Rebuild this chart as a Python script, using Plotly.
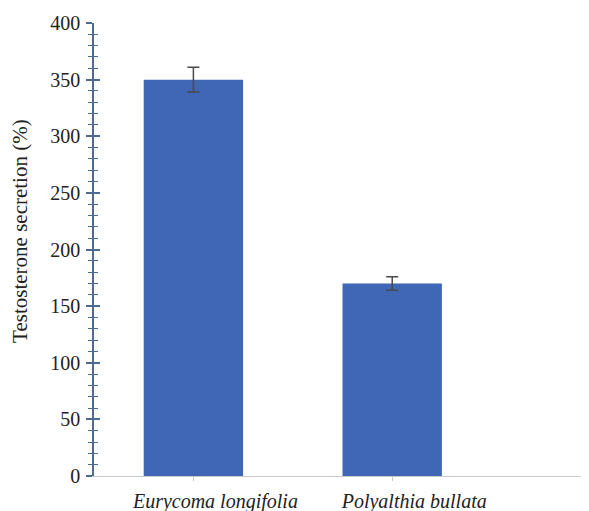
import plotly.graph_objects as go

categories = ["Eurycoma longifolia", "Polyalthia bullata"]
values = [350, 170]
errors = [11, 6]
y_ticks = [0, 50, 100, 150, 200, 250, 300, 350, 400]
y_title = "Testosterone secretion (%)"

serif = "Liberation Serif"
axis_col = "#4d6b8c"

fig = go.Figure()
fig.add_trace(go.Bar(
    x=categories, y=values, width=0.5,
    marker=dict(color="#3f67b6", line=dict(width=0)),
    error_y=dict(type="data", array=errors, visible=True,
                 color="#4a4a4a", thickness=1.5, width=6),
))
# helper trace for second (inside-tick) y axis
fig.add_trace(go.Scatter(x=[categories[0]], y=[0], yaxis="y2",
                         mode="markers", marker=dict(opacity=0),
                         showlegend=False, hoverinfo="skip"))

fig.update_layout(
    width=589, height=511,
    margin=dict(l=86, r=4, t=15, b=43),
    paper_bgcolor="white", plot_bgcolor="white",
    showlegend=False,
    font=dict(family=serif, color="#222222", size=20),
    xaxis=dict(
        type="category", categoryarray=categories, categoryorder="array",
        range=[-0.5, 2.01], automargin=False,
        showline=True, linecolor="#c9c9c9", linewidth=1,
        ticks="outside", ticklen=4, tickcolor="#c9c9c9",
        tickfont=dict(family=serif, size=20, style="italic", color="#222222"),
        ticklabelshift=22, ticklabelstandoff=3,
        showgrid=False, zeroline=False,
    ),
    yaxis=dict(
        range=[0, 400], tickvals=y_ticks, automargin=False,
        showline=True, linecolor=axis_col, linewidth=1.5,
        ticks="outside", ticklen=6, tickcolor=axis_col, tickwidth=1.5,
        minor=dict(dtick=10, ticks="outside", ticklen=4, tickcolor=axis_col, tickwidth=1.2),
        tickfont=dict(family=serif, size=20, color="#222222"),
        ticklabelstandoff=2,
        showgrid=False, zeroline=False,
    ),
    yaxis2=dict(
        range=[0, 400], overlaying="y", side="left", anchor="x", automargin=False,
        tickvals=y_ticks, showticklabels=False,
        ticks="inside", ticklen=6, tickcolor=axis_col, tickwidth=1.5,
        minor=dict(dtick=10, ticks="inside", ticklen=4, tickcolor=axis_col, tickwidth=1.2),
        showgrid=False, zeroline=False, showline=False,
    ),
    annotations=[dict(
        text=y_title, textangle=-90, showarrow=False,
        xref="paper", yref="paper", x=0, y=0.541, xshift=-74,
        xanchor="center", yanchor="middle",
        font=dict(family=serif, size=21, color="#222222"),
    )],
)

fig.write_html("out.html")
